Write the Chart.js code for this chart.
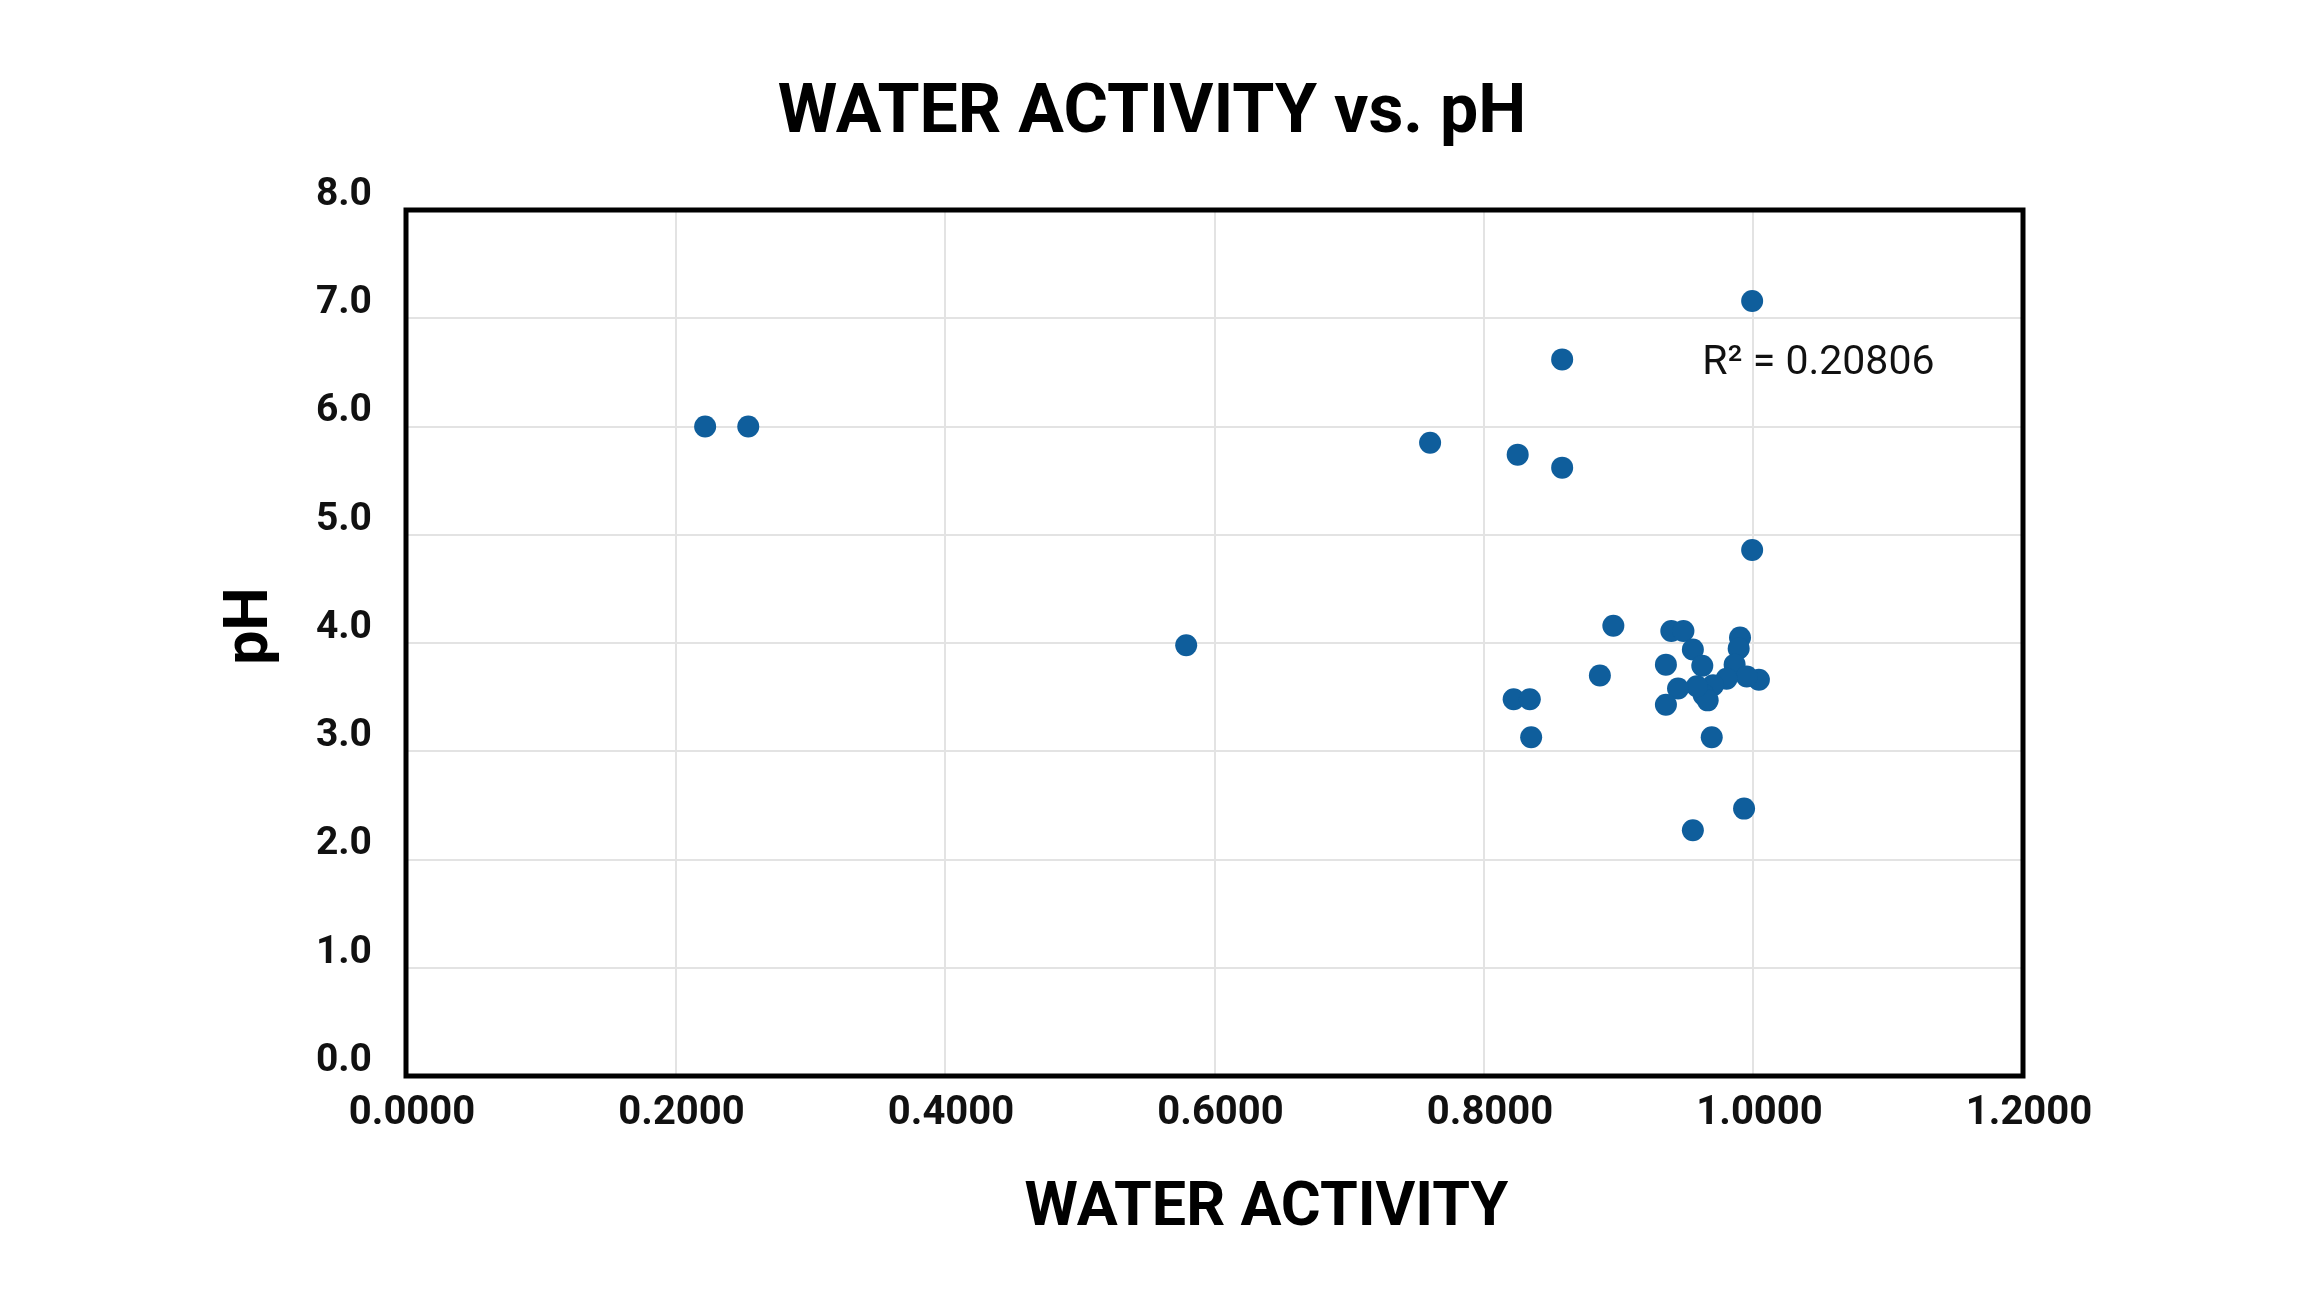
<!DOCTYPE html>
<html>
<head>
<meta charset="utf-8">
<title>Water activity vs. pH</title>
<script src="https://cdn.jsdelivr.net/npm/chart.js@4.4.1/dist/chart.umd.min.js"></script>
<style>
  html, body { margin: 0; padding: 0; background: #fff; }
  canvas { display: block; }
</style>
</head>
<body>
<canvas id="chart" width="2310" height="1300"></canvas>
<script>
// data
const waterActivity = [
  0.222, 0.254, 0.579, 0.760, 0.825, 0.858, 0.858, 0.999, 0.999, 0.896,
  0.886, 0.822, 0.834, 0.835, 0.955, 0.993, 0.969,
  0.939, 0.948, 0.935, 0.955, 0.962, 0.990, 0.989, 0.986, 1.004,
  0.995, 0.980, 0.970, 0.963, 0.966, 0.958, 0.944, 0.935
];
const phValues = [
  6.00, 6.00, 3.98, 5.85, 5.74, 5.62, 6.62, 7.16, 4.86, 4.16,
  3.70, 3.48, 3.48, 3.13, 2.27, 2.47, 3.13,
  4.11, 4.11, 3.80, 3.94, 3.79, 4.05, 3.95, 3.80, 3.66,
  3.69, 3.67, 3.61, 3.52, 3.47, 3.60, 3.58, 3.43
];

const chartTitle = "WATER ACTIVITY vs. pH";
const xAxisTitle = "WATER ACTIVITY";
const yAxisTitle = "pH";
const rSquaredText = "R\u00B2 = 0.20806";
const rSquaredAnchor = [0.962, 6.58]; // where the label sits, in data units

const dotColor = "#0f5e9c";

// title, frame, axis titles and the R² note
const extrasPlugin = {
  id: "extras",
  afterDraw(chart) {
    const { ctx, chartArea: a, scales } = chart;
    ctx.save();

    ctx.strokeStyle = "#000";
    ctx.lineWidth = 5;
    ctx.strokeRect(a.left, a.top, a.right - a.left, a.bottom - a.top);

    ctx.fillStyle = "#111";
    ctx.font = "41px Roboto";
    ctx.textAlign = "left";
    ctx.textBaseline = "middle";
    ctx.fillText(rSquaredText, scales.x.getPixelForValue(rSquaredAnchor[0]), scales.y.getPixelForValue(rSquaredAnchor[1]));

    ctx.fillStyle = "#000";
    ctx.textAlign = "center";
    ctx.font = "bold 68px Roboto";
    ctx.fillText(chartTitle, 1152, 115);

    ctx.font = "bold 61px Roboto";
    ctx.fillText(xAxisTitle, (a.left + a.right) / 2 + 52, a.bottom + 134);

    ctx.translate(a.left - 154, (a.top + a.bottom) / 2 - 17);
    ctx.rotate(-Math.PI / 2);
    ctx.fillText(yAxisTitle, 0, 0);

    ctx.restore();
  }
};

new Chart(document.getElementById("chart"), {
  type: "scatter",
  data: {
    datasets: [{
      data: waterActivity.map((x, i) => ({ x, y: phValues[i] })),
      backgroundColor: dotColor,
      borderWidth: 0,
      pointRadius: 11
    }]
  },
  options: {
    responsive: false,
    devicePixelRatio: 1,
    animation: false,
    layout: { padding: { top: 210, left: 0, right: 287, bottom: 0 } },
    plugins: {
      legend: { display: false },
      tooltip: { enabled: false },
      title: { display: false }
    },
    scales: {
      x: {
        type: "linear",
        min: 0,
        max: 1.2,
        afterFit: s => { s.height = 224; },
        grid: { color: "#e3e3e3", lineWidth: 2, drawTicks: false },
        border: { display: false },
        ticks: {
          stepSize: 0.2,
          autoSkip: false,
          maxRotation: 0,
          padding: 14,
          labelOffset: 6,
          color: "#111",
          font: { family: "Roboto", size: 40, weight: "bold" },
          callback: v => Number(v).toFixed(4)
        }
      },
      y: {
        type: "linear",
        min: 0,
        max: 8,
        afterFit: s => { s.width = 406; },
        grid: { color: "#e3e3e3", lineWidth: 2, drawTicks: false },
        border: { display: false },
        ticks: {
          stepSize: 1,
          padding: 34,
          labelOffset: -15,
          color: "#111",
          font: { family: "Roboto", size: 39, weight: "bold" },
          callback: v => Number(v).toFixed(1)
        }
      }
    }
  },
  plugins: [extrasPlugin]
});
</script>
</body>
</html>
